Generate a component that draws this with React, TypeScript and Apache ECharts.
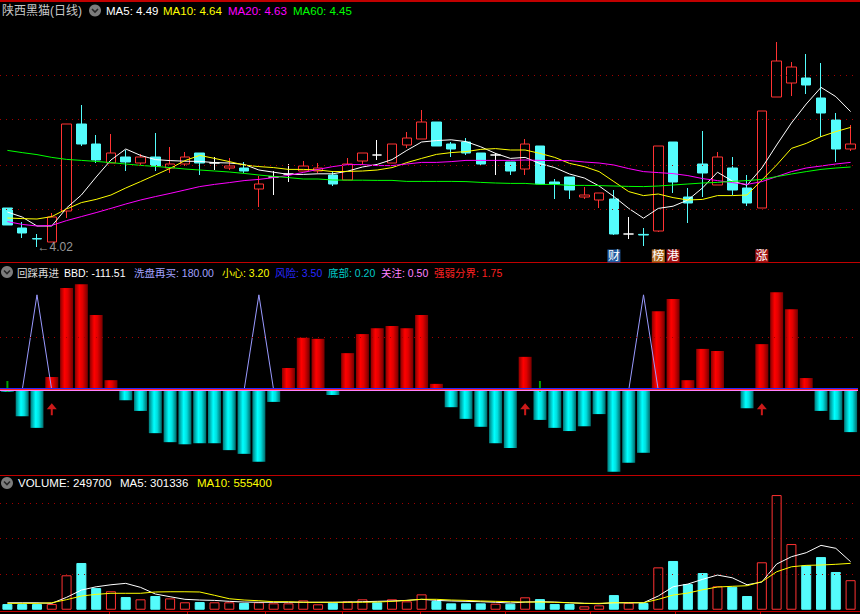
import React, { useEffect, useRef } from 'react';
import * as echarts from 'echarts';

// ---------- K-line data (price) ----------
const kOpen = [4.215, 4.115, 4.062, 4.045, 4.2, 4.635, 4.535, 4.44, 4.47, 4.44,
  4.47, 4.415, 4.435, 4.49, 4.44, 4.415, 4.415, 4.31, 4.37, 4.385,
  4.4, 4.4, 4.38, 4.355, 4.45, 4.48, 4.44, 4.53, 4.56, 4.645,
  4.535, 4.545, 4.49, 4.48, 4.445, 4.41, 4.525, 4.345, 4.37, 4.27,
  4.255, 4.26, 4.085, 4.083, 4.1, 4.545, 4.27, 4.435, 4.33, 4.415,
  4.315, 4.215, 4.77, 4.84, 4.865, 4.765, 4.655, 4.51];
const kClose = [4.13, 4.09, 4.06, 4.17, 4.635, 4.535, 4.455, 4.49, 4.445, 4.47,
  4.425, 4.435, 4.47, 4.44, 4.44, 4.425, 4.4, 4.335, 4.37, 4.385,
  4.425, 4.415, 4.335, 4.435, 4.49, 4.48, 4.535, 4.565, 4.645, 4.525,
  4.51, 4.49, 4.435, 4.48, 4.4, 4.535, 4.335, 4.335, 4.305, 4.28,
  4.29, 4.085, 4.085, 4.08, 4.525, 4.345, 4.24, 4.39, 4.47, 4.305,
  4.24, 4.7, 4.95, 4.92, 4.83, 4.69, 4.51, 4.535];
const kLow = [4.13, 4.065, 4.02, 4.045, 4.165, 4.525, 4.44, 4.44, 4.4, 4.43,
  4.4, 4.39, 4.425, 4.38, 4.405, 4.405, 4.39, 4.22, 4.28, 4.345,
  4.4, 4.39, 4.325, 4.355, 4.43, 4.455, 4.44, 4.515, 4.56, 4.525,
  4.47, 4.48, 4.425, 4.38, 4.38, 4.38, 4.335, 4.26, 4.26, 4.26,
  4.215, 4.08, 4.06, 4.025, 4.095, 4.29, 4.14, 4.27, 4.33, 4.28,
  4.225, 4.215, 4.77, 4.775, 4.785, 4.57, 4.445, 4.5];
const kHigh = [4.215, 4.145, 4.085, 4.19, 4.635, 4.73, 4.58, 4.585, 4.505, 4.485,
  4.59, 4.52, 4.495, 4.49, 4.47, 4.465, 4.445, 4.375, 4.4, 4.435,
  4.45, 4.44, 4.4, 4.465, 4.49, 4.555, 4.535, 4.595, 4.705, 4.645,
  4.545, 4.565, 4.49, 4.49, 4.445, 4.56, 4.525, 4.36, 4.37, 4.32,
  4.29, 4.305, 4.17, 4.115, 4.525, 4.545, 4.315, 4.6, 4.495, 4.47,
  4.38, 4.7, 5.045, 4.945, 4.985, 4.94, 4.69, 4.63];

const ma5 = [4.195, 4.17, 4.125, 4.125, 4.215, 4.28, 4.37, 4.455, 4.51, 4.478,
  4.457, 4.452, 4.449, 4.448, 4.442, 4.44, 4.433, 4.405, 4.394, 4.383,
  4.383, 4.386, 4.386, 4.399, 4.42, 4.433, 4.457, 4.503, 4.545, 4.552,
  4.556, 4.547, 4.521, 4.488, 4.463, 4.468, 4.437, 4.417, 4.385, 4.365,
  4.325, 4.272, 4.213, 4.164, 4.213, 4.224, 4.255, 4.316, 4.394, 4.35,
  4.329, 4.415, 4.53, 4.64, 4.735, 4.818, 4.772, 4.697];
const ma10 = [4.165, 4.162, 4.16, 4.172, 4.21, 4.242, 4.258, 4.28, 4.315, 4.347,
  4.38, 4.413, 4.452, 4.478, 4.463, 4.447, 4.43, 4.422, 4.417, 4.408,
  4.408, 4.405, 4.397, 4.398, 4.4, 4.405, 4.417, 4.442, 4.463, 4.483,
  4.492, 4.497, 4.508, 4.512, 4.505, 4.505, 4.488, 4.468, 4.438, 4.422,
  4.397, 4.347, 4.297, 4.277, 4.285, 4.267, 4.255, 4.258, 4.277, 4.277,
  4.28, 4.355, 4.43, 4.513, 4.538, 4.572, 4.597, 4.618];
const ma20 = [4.147, 4.133, 4.125, 4.128, 4.152, 4.172, 4.192, 4.213, 4.235, 4.255,
  4.272, 4.288, 4.305, 4.322, 4.333, 4.342, 4.352, 4.358, 4.367, 4.378,
  4.393, 4.408, 4.422, 4.432, 4.432, 4.427, 4.427, 4.435, 4.443, 4.443,
  4.447, 4.453, 4.453, 4.453, 4.453, 4.455, 4.453, 4.452, 4.452, 4.445,
  4.44, 4.43, 4.412, 4.397, 4.392, 4.387, 4.377, 4.362, 4.352, 4.342,
  4.333, 4.347, 4.372, 4.397, 4.415, 4.425, 4.435, 4.443];
const ma60 = [4.503, 4.492, 4.482, 4.468, 4.458, 4.453, 4.448, 4.442, 4.435, 4.428,
  4.423, 4.417, 4.41, 4.405, 4.4, 4.395, 4.388, 4.38, 4.373, 4.367,
  4.36, 4.36, 4.355, 4.354, 4.354, 4.353, 4.353, 4.348, 4.348, 4.348,
  4.348, 4.347, 4.343, 4.34, 4.338, 4.338, 4.333, 4.333, 4.328, 4.328,
  4.327, 4.325, 4.323, 4.322, 4.325, 4.33, 4.335, 4.34, 4.343, 4.348,
  4.352, 4.358, 4.372, 4.385, 4.397, 4.408, 4.415, 4.42];

const maNames = ['MA5', 'MA10', 'MA20', 'MA60'];
const maHeaderValues = [4.49, 4.64, 4.63, 4.45];
const priceGridLevels = [4.215, 4.435, 4.655, 4.875];

const tagIndex = [41, 44, 45, 51];
const tagText = ['财', '榜', '港', '涨'];

// ---------- BBD indicator ----------
const bbd = [-3, -49, -71, 25, 193, 200, 142, 19, -19, -39,
  -81, -98, -102, -100, -100, -113, -120, -135, -22, 42,
  99, 97, -9, 70, 106, 117, 121, 117, 142, 12,
  -32, -54, -69, -100, -109, 63, -56, -71, -77, -68,
  -45, -154, -137, -118, 149, 172, 19, 78, 74, 0,
  -34, 87, 185, 153, 23, -39, -56, -79];
const washBuy = [0, 0, 180, 0, 0, 0, 0, 0, 0, 0,
  0, 0, 0, 0, 0, 0, 0, 180, 0, 0,
  0, 0, 0, 0, 0, 0, 0, 0, 0, 0,
  0, 0, 0, 0, 0, 0, 0, 0, 0, 0,
  0, 0, 0, 180, 0, 0, 0, 0, 0, 0,
  0, 0, 0, 0, 0, 0, 0, 0];
const arrowIndex = [3, 35, 51];
const plusIndex = [0, 36];
const bbdHeader = -111.51;
const thresholdNames = ['小心', '风险', '底部', '关注', '强弱分界'];
const thresholdValues = [3.2, 3.5, 0.2, 0.5, 1.75];
const bbdGridLevels = [100];

// ---------- Volume ----------
const volume = [48000, 48000, 48000, 48000, 291000, 395000, 183000, 156000, 107000, 88000,
  116000, 96000, 63000, 65000, 63000, 63000, 57000, 63000, 54000, 54000,
  79000, 46000, 59000, 71000, 88000, 63000, 88000, 71000, 130000, 74000,
  54000, 54000, 54000, 51000, 51000, 105000, 90000, 48000, 48000, 29000,
  37000, 124000, 59000, 57000, 358000, 412000, 217000, 310000, 198000, 194000,
  116000, 401000, 969000, 555000, 375000, 445000, 319000, 249700];
const volMa5 = [59000, 59000, 59000, 54000, 105000, 166000, 194000, 211000, 223000, 189000,
  133000, 110000, 88000, 82000, 79000, 71000, 65000, 63000, 63000, 63000,
  63000, 63000, 63000, 65000, 68000, 71000, 74000, 79000, 88000, 79000,
  74000, 71000, 68000, 63000, 57000, 65000, 68000, 65000, 59000, 54000,
  51000, 59000, 59000, 59000, 116000, 194000, 217000, 257000, 293000, 270000,
  211000, 234000, 386000, 448000, 482000, 544000, 519000, 406000];
const volMa10 = [54000, 54000, 54000, 59000, 85000, 116000, 130000, 139000, 139000, 139000,
  150000, 152000, 152000, 150000, 122000, 93000, 82000, 76000, 68000, 68000,
  63000, 63000, 63000, 63000, 63000, 65000, 71000, 79000, 88000, 88000,
  82000, 79000, 74000, 71000, 68000, 65000, 65000, 63000, 59000, 54000,
  54000, 59000, 59000, 59000, 88000, 124000, 141000, 169000, 192000, 198000,
  203000, 237000, 321000, 363000, 375000, 378000, 384000, 392000];
const volHeader = [249700, 301336, 555400];
const volGridLevels = [300000, 600000, 900000];

// ---------- styles ----------
const FONT = '"Liberation Sans", "Noto Sans CJK SC", sans-serif';
const RED = '#ff3232';
const CYAN = '#54fcfc';
const GRIDRED = '#a00000';
const FRAME = '#c00000';
const maColors = ['#ffffff', '#ffff00', '#ff00ff', '#00ff00'];
const thresholdColors = ['#ffff00', '#2828ff', '#00c8c8', '#ff80ff', '#ff2020'];
const tagColors = ['#1f5aa0', '#a8641a', '#a01212', '#a01212'];

function dotted(levels: number[]) {
  return {
    silent: true,
    symbol: ['none', 'none'],
    label: { show: false },
    lineStyle: { color: GRIDRED, type: [1, 5], width: 1 },
    data: levels.map((v) => ({ yAxis: v })),
  };
}

function buildOption() {
  const cats = kOpen.map((_, i) => String(i + 1));

  const kItems = kOpen.map((o, i) => {
    const c = kClose[i];
    const col = c > o ? { f: '#000000', l: RED } : c < o ? { f: CYAN, l: CYAN } : { f: '#ffffff', l: '#ffffff' };
    return {
      value: [o, c, kLow[i], kHigh[i]],
      itemStyle: { color: col.f, color0: col.f, borderColor: col.l, borderColor0: col.l, borderColorDoji: col.l, borderWidth: 1 },
    };
  });

  const volItems = volume.map((v, i) => {
    const o = kOpen[i];
    const c = kClose[i];
    const up = c > o || (c === o && (i === 0 || c >= kClose[i - 1]));
    return {
      value: v,
      itemStyle: up ? { color: '#000000', borderColor: RED, borderWidth: 1 } : { color: CYAN, borderColor: CYAN, borderWidth: 1 },
    };
  });

  const redGrad = {
    type: 'linear', x: 0, y: 0, x2: 1, y2: 0,
    colorStops: [
      { offset: 0, color: '#8a0000' }, { offset: 0.35, color: '#ff0000' },
      { offset: 0.6, color: '#e00000' }, { offset: 1, color: '#760000' },
    ],
  };
  const cyanGrad = {
    type: 'linear', x: 0, y: 0, x2: 1, y2: 0,
    colorStops: [
      { offset: 0, color: '#007a7a' }, { offset: 0.4, color: '#00ffff' },
      { offset: 0.65, color: '#00dede' }, { offset: 1, color: '#006a6a' },
    ],
  };
  const bbdItems = bbd.map((v) => ({ value: v, itemStyle: { color: v >= 0 ? redGrad : cyanGrad } }));

  let lowIdx = 0;
  kLow.forEach((v, i) => { if (v < kLow[lowIdx]) lowIdx = i; });

  const tagLevel = 3.975;
  const arrowLevel = -36;
  const plusLevel = 7;

  const mainLines = [ma5, ma10, ma20, ma60].map((d, k) => ({
    type: 'line', name: maNames[k], xAxisIndex: 0, yAxisIndex: 0, data: d,
    symbol: 'none', silent: true, lineStyle: { color: maColors[k], width: 1 },
  }));

  const graphic: any[] = [];
  const frameYs = [0, 262, 475, 611];
  frameYs.forEach((y, k) => graphic.push({ type: 'rect', silent: true, shape: { x: 0, y, width: 860, height: k === 0 ? 2 : 1 }, style: { fill: FRAME } }));
  const tickXs = [109, 187, 265, 342, 420, 505, 590, 675, 760];
  tickXs.forEach((x) => graphic.push({ type: 'line', silent: true, shape: { x1: x + 0.5, y1: 611, x2: x + 0.5, y2: 614 }, style: { stroke: FRAME, lineWidth: 1 } }));

  const icon = (cx: number, cy: number) => {
    graphic.push({ type: 'circle', silent: true, shape: { cx, cy, r: 6 }, style: { fill: '#7c7c7c' } });
    graphic.push({ type: 'polyline', silent: true, shape: { points: [[cx - 3, cy - 1.5], [cx, cy + 1.5], [cx + 3, cy - 1.5]] }, style: { stroke: '#262626', lineWidth: 1.6, fill: 'none' } });
  };
  const txt = (text: string, x: number, y: number, fill: string, size = 11.5) => {
    graphic.push({ type: 'text', silent: true, x, y, style: { text, fill, fontSize: size, fontFamily: FONT, verticalAlign: 'middle', align: 'left' } });
  };

  // main header
  txt('陕西黑猫(日线)', 2, 11, '#c8c8c8', 12);
  icon(95, 10.5);
  const maX = [106, 163, 228, 293];
  maNames.forEach((nm, k) => txt(`${nm}: ${maHeaderValues[k].toFixed(2)}`, maX[k], 11, maColors[k]));

  // middle header
  const MID = 10.5;
  icon(7, 272);
  txt('回踩再进', 17, 273, '#dcdcdc', MID);
  txt(`BBD: ${bbdHeader.toFixed(2)}`, 64, 273, '#ffffff', MID);
  txt(`洗盘再买: ${Math.max(...washBuy).toFixed(2)}`, 134, 273, '#a0a0ff', MID);
  const thX = [222, 275, 328, 381, 434];
  thresholdNames.forEach((nm, k) => txt(`${nm}: ${thresholdValues[k].toFixed(2)}`, thX[k], 273, thresholdColors[k], MID));

  // volume header
  icon(7, 483);
  txt(`VOLUME: ${volHeader[0]}`, 18, 483, '#ffffff');
  txt(`MA5: ${volHeader[1]}`, 120, 483, '#ffffff');
  txt(`MA10: ${volHeader[2]}`, 197, 483, '#ffff00');

  return {
    animation: false,
    backgroundColor: '#000000',
    grid: [
      { left: 0, width: 858, top: 20, height: 242 },
      { left: 0, width: 858, top: 280, height: 193.45 },
      { left: 0, width: 858, top: 491.4, height: 118.34 },
    ],
    xAxis: [0, 1, 2].map((g) => ({ type: 'category', gridIndex: g, data: cats, boundaryGap: true, show: false })),
    yAxis: [
      { type: 'value', gridIndex: 0, min: 3.945, max: 5.155, show: false, splitLine: { show: false } },
      { type: 'value', gridIndex: 1, min: -157, max: 208, show: false, splitLine: { show: false } },
      { type: 'value', gridIndex: 2, min: 0, max: 1000000, show: false, splitLine: { show: false } },
    ],
    graphic,
    series: [
      // main panel
      { type: 'line', xAxisIndex: 0, yAxisIndex: 0, data: [], silent: true, markLine: dotted(priceGridLevels) },
      { type: 'candlestick', xAxisIndex: 0, yAxisIndex: 0, data: kItems, barWidth: 10, silent: true },
      ...mainLines,
      {
        type: 'scatter', xAxisIndex: 0, yAxisIndex: 0, silent: true,
        data: [[lowIdx, kLow[lowIdx]]], symbolSize: 1, itemStyle: { color: 'rgba(0,0,0,0)' },
        label: { show: true, position: 'right', distance: 0, formatter: '←' + kLow[lowIdx].toFixed(2), color: '#c0c0c0', fontSize: 12, fontFamily: FONT },
      },
      {
        type: 'scatter', xAxisIndex: 0, yAxisIndex: 0, silent: true, clip: false,
        symbol: 'rect', symbolSize: [13, 13],
        itemStyle: { color: (p: any) => tagColors[p.dataIndex], opacity: 1 },
        data: tagIndex.map((i, k) => ({
          value: [i, tagLevel],
          label: {
            show: true, position: 'inside', formatter: tagText[k], color: '#ffffff',
            fontSize: 12, fontFamily: FONT,
          },
        })),
      },
      // BBD panel
      { type: 'line', xAxisIndex: 1, yAxisIndex: 1, data: [], silent: true, markLine: dotted(bbdGridLevels) },
      { type: 'bar', xAxisIndex: 1, yAxisIndex: 1, data: bbdItems, barWidth: 13, silent: true },
      {
        type: 'line', xAxisIndex: 1, yAxisIndex: 1, data: washBuy, symbol: 'none', silent: true,
        lineStyle: { color: '#9a9aff', width: 1 },
        markLine: {
          silent: true, symbol: ['none', 'none'], label: { show: false },
          lineStyle: { type: 'solid', width: 1 },
          data: [2, 3, 4, 0, 1].map((k) => ({ yAxis: thresholdValues[k], lineStyle: { color: thresholdColors[k], type: 'solid', width: 1 } })),
        },
      },
      {
        type: 'scatter', xAxisIndex: 1, yAxisIndex: 1, silent: true,
        data: arrowIndex.map((i) => [i, arrowLevel]),
        symbol: 'path://M5,0 L10,6 L6,6 L6,12 L4,12 L4,6 L0,6 Z', symbolSize: [10, 12],
        itemStyle: { color: '#ff2020' },
      },
      {
        type: 'scatter', xAxisIndex: 1, yAxisIndex: 1, silent: true,
        data: plusIndex.map((i) => [i, plusLevel]),
        symbol: 'path://M4,0 L6,0 L6,7 L10,7 L10,8.5 L6,8.5 L6,11 L4,11 L4,8.5 L0,8.5 L0,7 L4,7 Z', symbolSize: [10, 11],
        itemStyle: { color: '#00c800' },
      },
      // volume panel
      { type: 'line', xAxisIndex: 2, yAxisIndex: 2, data: [], silent: true, markLine: dotted(volGridLevels) },
      { type: 'bar', xAxisIndex: 2, yAxisIndex: 2, data: volItems, barWidth: 10, silent: true },
      { type: 'line', xAxisIndex: 2, yAxisIndex: 2, data: volMa5, symbol: 'none', silent: true, lineStyle: { color: '#ffffff', width: 1 } },
      { type: 'line', xAxisIndex: 2, yAxisIndex: 2, data: volMa10, symbol: 'none', silent: true, lineStyle: { color: '#ffff00', width: 1 } },
    ],
  };
}

export default function App() {
  const ref = useRef<HTMLDivElement>(null);
  useEffect(() => {
    if (!ref.current) return;
    const chart = echarts.init(ref.current, null, { renderer: 'svg' });
    chart.setOption(buildOption() as any);
    return () => chart.dispose();
  }, []);
  return (
    <div
      ref={ref}
      style={{ position: 'fixed', left: 0, top: 0, width: 860, height: 614, background: '#000000' }}
    />
  );
}
